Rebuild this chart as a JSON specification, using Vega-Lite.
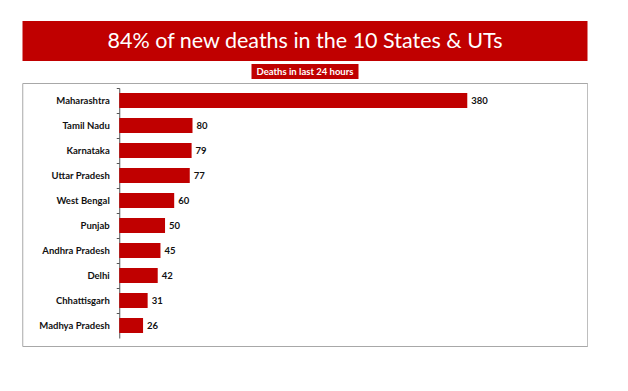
{
  "$schema": "https://vega.github.io/schema/vega-lite/v6.json",
  "padding": {"left": 21, "top": 21, "right": 0, "bottom": 0},
  "background": "white",
  "config": {"font": "Lato", "view": {"stroke": null}},
  "datasets": {
    "deaths": [
      {"state": "Maharashtra", "deaths": 380},
      {"state": "Tamil Nadu", "deaths": 80},
      {"state": "Karnataka", "deaths": 79},
      {"state": "Uttar Pradesh", "deaths": 77},
      {"state": "West Bengal", "deaths": 60},
      {"state": "Punjab", "deaths": 50},
      {"state": "Andhra Pradesh", "deaths": 45},
      {"state": "Delhi", "deaths": 42},
      {"state": "Chhattisgarh", "deaths": 31},
      {"state": "Madhya Pradesh", "deaths": 26}
    ]
  },
  "vconcat": [
    {
      "width": 565,
      "height": 40,
      "view": {"fill": "#c00000", "stroke": null},
      "data": {"values": [{"t": "84% of new deaths in the 10 States & UTs"}]},
      "mark": {"type": "text", "color": "white", "fontSize": 21.5, "font": "Lato", "baseline": "middle", "align": "center", "dy": 1},
      "encoding": {"text": {"field": "t"}}
    },
    {
      "width": 107,
      "height": 15,
      "view": {"fill": "#c00000", "stroke": null},
      "data": {"values": [{"t": "Deaths in last 24 hours"}]},
      "mark": {"type": "text", "color": "white", "fontSize": 9.5, "fontWeight": "bold", "font": "Lato", "baseline": "middle", "align": "center"},
      "encoding": {"text": {"field": "t"}}
    },
    {
      "width": 565,
      "height": 263,
      "view": {"stroke": "#a8a8a8", "strokeWidth": 1},
      "data": {"name": "deaths"},
      "encoding": {
        "y": {
          "field": "state",
          "type": "nominal",
          "sort": null,
          "scale": {"range": [5, 255], "paddingInner": 0.4, "paddingOuter": 0.2},
          "axis": {
            "title": null,
            "offset": -97,
            "domainColor": "#555",
            "tickColor": "#555",
            "tickSize": 3,
            "bandPosition": -0.3333,
            "labelPadding": 7,
            "labelFont": "Lato",
            "labelFontSize": 9.5,
            "labelFontWeight": "bold",
            "labelColor": "#111"
          }
        }
      },
      "layer": [
        {
          "mark": {"type": "bar", "color": "#c00000"},
          "encoding": {
            "x": {
              "field": "deaths",
              "type": "quantitative",
              "scale": {"domain": [0, 511], "range": [97, 565], "nice": false},
              "axis": null
            }
          }
        },
        {
          "mark": {"type": "text", "align": "left", "dx": 4, "fontSize": 9.5, "fontWeight": "bold", "font": "Lato", "color": "#111"},
          "encoding": {
            "x": {"field": "deaths", "type": "quantitative"},
            "text": {"field": "deaths", "type": "quantitative"}
          }
        }
      ]
    }
  ],
  "spacing": 3,
  "center": true
}
